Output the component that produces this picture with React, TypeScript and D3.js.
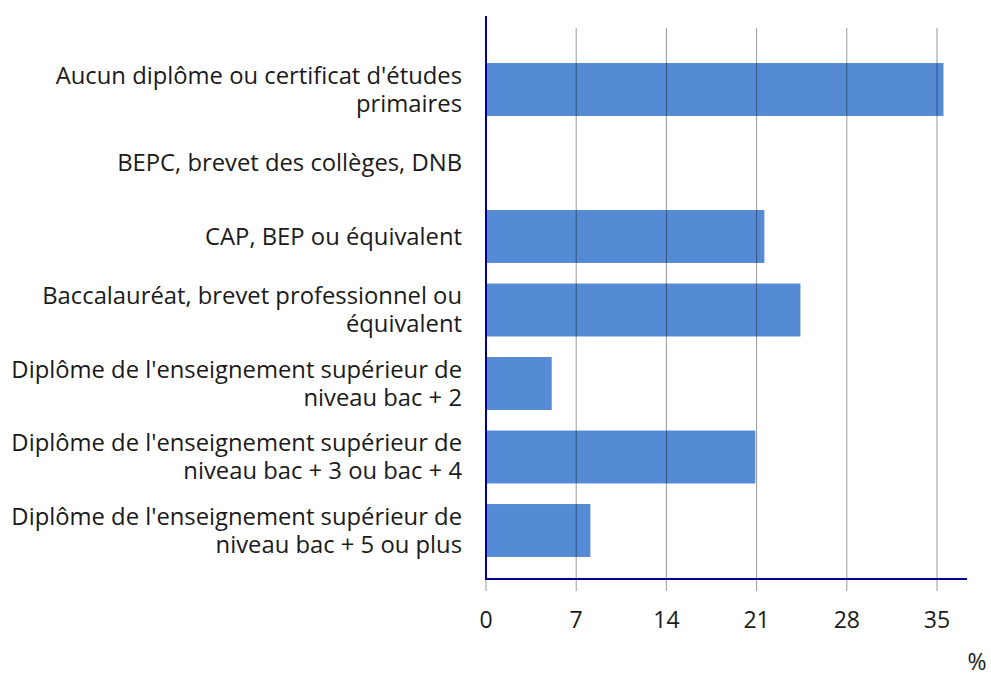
import * as d3 from "d3";
import React from "react";

const categories = [
  ["Aucun diplôme ou certificat d'études", "primaires"],
  ["BEPC, brevet des collèges, DNB"],
  ["CAP, BEP ou équivalent"],
  ["Baccalauréat, brevet professionnel ou", "équivalent"],
  ["Diplôme de l'enseignement supérieur de", "niveau bac + 2"],
  ["Diplôme de l'enseignement supérieur de", "niveau bac + 3 ou bac + 4"],
  ["Diplôme de l'enseignement supérieur de", "niveau bac + 5 ou plus"],
];
const values = [35.5, 0, 21.6, 24.4, 5.1, 20.9, 8.1];
const ticks = [0, 7, 14, 21, 28, 35];

const App = () => {
  const width = 991;
  const height = 677;
  const x0 = 486;
  const axisTop = 16;
  const axisBottom = 579;

  const x = d3.scaleLinear().domain([0, 7]).range([x0, x0 + 90.2]);
  const y = d3
    .scaleBand()
    .domain(categories.map((d, i) => String(i)))
    .range([52.75, 567.25])
    .paddingInner(0.28)
    .paddingOuter(0.14);

  const font = "'Open Sans', 'Noto Sans', sans-serif";

  return (
    <svg width={width} height={height} style={{ position: "absolute", left: 0, top: 0 }}>
      {categories.map((lines, i) => (
        <rect
          key={"b" + i}
          x={x(0)}
          y={y(String(i))}
          width={x(values[i]) - x(0)}
          height={y.bandwidth()}
          fill="#4680d0"
          fillOpacity={0.92}
        />
      ))}
      {ticks.map((t) => (
        <line
          key={"g" + t}
          x1={x(t)}
          x2={x(t)}
          y1={28}
          y2={591}
          stroke="#000"
          strokeOpacity={0.4}
          strokeWidth={1}
        />
      ))}
      <line x1={x0} x2={x0} y1={axisTop} y2={axisBottom + 1} stroke="#000090" strokeWidth={2} />
      <line x1={x0} x2={967} y1={axisBottom} y2={axisBottom} stroke="#000090" strokeWidth={2} />
      {ticks.map((t) => (
        <text
          key={"t" + t}
          x={x(t)}
          y={628}
          textAnchor="middle"
          fontFamily={font}
          fontSize={23}
          fill="#1a1a1a"
        >
          {t}
        </text>
      ))}
      <text x={977} y={670} textAnchor="middle" fontFamily={font} fontSize={23} fill="#1a1a1a">
        %
      </text>
      {categories.map((lines, i) => {
        const cy = (y(String(i)) as number) + y.bandwidth() / 2;
        const start = cy - ((lines.length - 1) * 28) / 2;
        return (
          <text
            key={"l" + i}
            textAnchor="end"
            fontFamily={font}
            fontSize={23.8}
            fill="#1a1a1a"
          >
            {lines.map((s, j) => (
              <tspan key={j} x={462} y={start + j * 28 + 8}>
                {s}
              </tspan>
            ))}
          </text>
        );
      })}
    </svg>
  );
};

export default App;
